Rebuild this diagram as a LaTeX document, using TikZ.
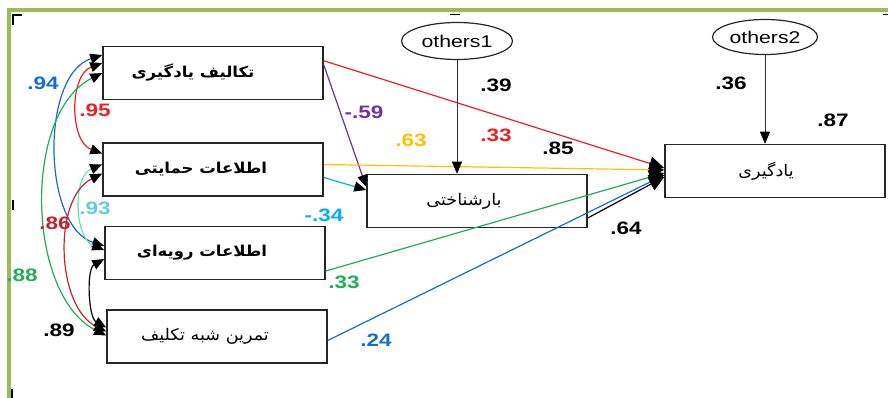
\documentclass[tikz,border=0pt]{standalone}
\usepackage{fontspec}
\setmainfont{Liberation Sans}
\newfontfamily\numfont[FakeStretch=1.25]{Liberation Sans}
\newfontfamily\fafont[Script=Arabic,FakeStretch=1.1]{DejaVu Sans}
\TeXXeTstate=1
\usetikzlibrary{arrows.meta,shapes.geometric,positioning}

\definecolor{framegreen}{RGB}{155,187,89}
\definecolor{cred}{RGB}{240,30,35}
\definecolor{cdarkred}{RGB}{195,35,45}
\definecolor{cyellow}{RGB}{255,192,0}
\definecolor{cgreen}{RGB}{30,175,85}
\definecolor{cblue}{RGB}{20,110,200}
\definecolor{ccyan}{RGB}{0,176,240}
\definecolor{clight}{RGB}{100,200,245}
\definecolor{cmint}{RGB}{100,230,175}
\definecolor{cpurple}{RGB}{112,48,160}

\begin{document}
\begin{tikzpicture}[x=1pt,y=-1pt,line width=1.2pt,
	>={Triangle[length=12pt,width=10pt,color=black]},
	big/.style={-{Triangle[length=15pt,width=14pt,color=black]}},
	box/.style={draw=black!85,line width=1.5pt,minimum width=220pt,minimum height=53pt,inner sep=0pt},
	lat/.style={ellipse,draw=black!85,line width=1.2pt,inner sep=0pt,font=\numfont\fontsize{17}{19}\selectfont},
	num/.style={inner sep=0pt,font=\numfont\bfseries\fontsize{18}{20}\selectfont},
	fa/.style={font=\fafont\fontsize{16}{18}\selectfont},
	fab/.style={font=\fafont\bfseries\fontsize{15}{17}\selectfont}]
	\useasboundingbox (0,0) rectangle (888,398);

	% frame
	\draw[framegreen,line width=4pt] (9,398) -- (9,10.5) -- (888,10.5);
	\draw[black,line width=1.5pt] (13,25) -- (13,15) -- (22,15);
	\draw[black,line width=1.5pt] (13,200) -- (13,210);
	\draw[black,line width=1.5pt] (12,389) -- (12,398);
	\draw[black,line width=1pt] (450,14.5) -- (460,14.5);
	\draw[black,line width=1pt] (883,14.5) -- (888,14.5);

	% variables
	\node[box,fab]	(v1)	at (213,73)							{\beginR تکالیف یادگیری\endR\kern40pt};
	\node[box,fab]	(v2)	[below=42pt of v1]					{\beginR اطلاعات حمایتی\endR\kern24pt};
	\node[box,fab]	(v3)	[below=29pt of v2,xshift=2pt]		{\beginR اطلاعات رویه‌ای\endR\kern26pt};
	\node[box,fa]	(v4)	[below=29pt of v3,xshift=2pt]		{\beginR تمرین شبه تکلیف\endR\kern24pt};
	\node[box,fa]	(v5)	at (477,201)						{\beginR بارشناختی\endR\kern26pt};
	\node[box,fa]	(v6)	at (775,171)						{\beginR یادگیری\endR\kern18pt};
	\node[lat,minimum width=111pt,minimum height=37pt]	(e1)	at (457,41)	{others1};
	\node[lat,minimum width=105pt,minimum height=35pt]	(e2)	at (765,37)	{others2};

	% paths
	\draw[big,cred]		([yshift=-15pt]v1.north east)	--	([yshift=3pt]v6.west);
	\draw[->,cpurple]	([yshift=-19pt]v1.north east)	--	([yshift=14pt]v5.west);
	\draw[big,cyellow]	([yshift=5pt]v2.east)			--	([yshift=1pt]v6.west);
	\draw[->,ccyan]		([yshift=-8pt]v2.east)			--	([yshift=11pt]v5.west);
	\draw[big,cgreen]	([yshift=-18pt]v3.east)			--	([yshift=-2pt]v6.west);
	\draw[big,cblue]	([yshift=-4pt]v4.east)			--	([yshift=-4pt]v6.west);
	\draw[big,black]	([yshift=-17pt]v5.east)			--	([yshift=-6pt]v6.west);
	\draw[->,black!80,line width=0.6pt]	(e1.south)	--	(e1.south |- v5.north);
	\draw[->,black!80,line width=0.6pt]	(e2.south)	--	(e2.south |- v6.north);

	% covariances
	\draw[<->,cblue]	([yshift=18pt]v1.west)	.. controls +(-62,20) and +(-62,-20) ..	([yshift=7pt]v3.west);
	\draw[<->,cred]		([yshift=10pt]v1.west)	.. controls +(-33,12) and +(-33,-12) ..	([yshift=16pt]v2.west);
	\draw[<->,cgreen]	([yshift=0pt]v1.west)	.. controls +(-80,40) and +(-80,-40) ..	([yshift=1pt]v4.west);
	\draw[<->,cmint]	([yshift=5pt]v2.west)	.. controls +(-30,12) and +(-30,-12) ..	([yshift=3pt]v3.west);
	\draw[<->,cdarkred]	([yshift=-4pt]v2.west)	.. controls +(-50,25) and +(-50,-25) ..	([yshift=5pt]v4.west);
	\draw[<->,black]	([yshift=-6pt]v3.west)	.. controls +(-18,10) and +(-18,-10) ..	([yshift=9pt]v4.west);

	% estimates
	\node[num,cblue]	(n1)	at (43,83)		{.94};
	\node[num,cred]		(n2)	at (95,110)		{.95};
	\node[num,clight]	(n3)	at (95,208)		{.93};
	\node[num,cdarkred]	(n4)	at (55,223)		{.86};
	\node[num,cgreen]	(n5)	at (22,275)		{.88};
	\node[num,black]	(n6)	at (59,330)		{.89};
	\node[num,cpurple]	(n7)	at (364,112)	{-.59};
	\node[num,cyellow]	(n8)	at (411,140)	{.63};
	\node[num,black]	(n9)	at (496,85)		{.39};
	\node[num,cred]		(n10)	at (496,135)	{.33};
	\node[num,black]	(n11)	at (558,148)	{.85};
	\node[num,ccyan]	(n12)	at (324,215)	{-.34};
	\node[num,black]	(n13)	at (626,228)	{.64};
	\node[num,cgreen]	(n14)	at (344,282)	{.33};
	\node[num,cblue]	(n15)	at (376,340)	{.24};
	\node[num,black]	(n16)	at (731,83)		{.36};
	\node[num,black]	(n17)	at (833,120)	{.87};
\end{tikzpicture}
\end{document}
